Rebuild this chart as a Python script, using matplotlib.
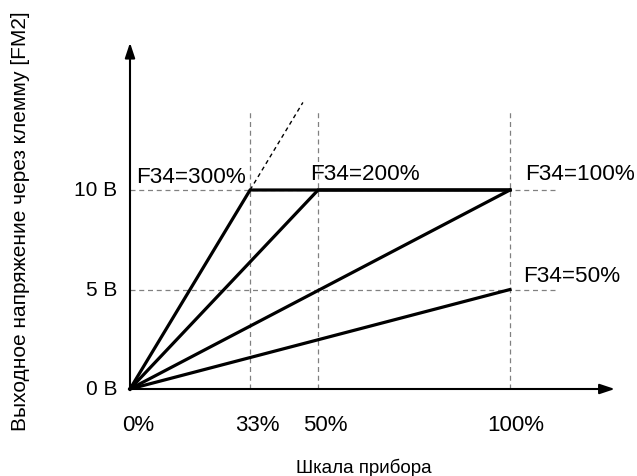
import matplotlib.pyplot as plt

plt.rcParams["font.family"] = ["Liberation Sans", "DejaVu Sans"]

# F34 settings and the scale points (%)
f34_labels = ["F34=300%", "F34=200%", "F34=100%", "F34=50%"]
f34_knee = [31.6, 49.5, 100, 100]   # x where each line ends / saturates
f34_end_v = [10, 10, 10, 5]         # voltage reached at the knee
x_marks = [0, 31.6, 49.5, 100]
x_tick_labels = ["0%", "33%", "50%", "100%"]
y_ticks = [0, 5, 10]
y_tick_labels = ["0 B", "5 B", "10 B"]
dash_ext = (45.5, 14.4)  # end of the unclipped 300% line

fig = plt.figure(figsize=(6.37, 4.77), dpi=100)
ax = fig.add_axes([0, 0, 1, 1])
ax.set_xlim(-130 / 3.8, (637 - 130) / 3.8)
ax.set_ylim(-(477 - 390) / 19.9, 390 / 19.9)
ax.axis("off")

grid = dict(color="#808080", lw=0.9, ls=(0, (4, 3)))
for x in x_marks[1:]:
    ax.plot([x, x], [0, 13.9], **grid)
for y in y_ticks[1:]:
    ax.plot([0, 112.6], [y, y], **grid)

# characteristic lines, clipped at 10 V
for xk, v in zip(f34_knee, f34_end_v):
    xs, ys = [0, xk], [0, v]
    if xk < 100:
        xs.append(100)
        ys.append(v)
    ax.plot(xs, ys, color="black", lw=2.3, solid_joinstyle="miter")

ax.plot([f34_knee[0], dash_ext[0]], [10, dash_ext[1]], color="black", lw=1,
        ls=(0, (3, 2.5)))

# axes with arrows
arrow = dict(arrowstyle="-|>,head_length=0.9,head_width=0.3", color="black",
             lw=1.5, shrinkA=0, shrinkB=0)
ax.annotate("", xy=(127.6, 0), xytext=(0, 0), arrowprops=arrow)
ax.annotate("", xy=(0, 17.4), xytext=(0, 0), arrowprops=arrow)

label_pos = [(1.6, 10.42), (47.4, 10.55), (103.9, 10.55), (103.4, 5.44)]
for txt, (x, y) in zip(f34_labels, label_pos):
    ax.text(x, y, txt, fontsize=16.2, ha="left", va="baseline")

tick_label_x = [2.1, 33.4, 51.3, 101.6]
for x, t in zip(tick_label_x, x_tick_labels):
    ax.text(x, -1.8, t, fontsize=16, ha="center", va="center")
for y, t in zip(y_ticks, y_tick_labels):
    ax.text(-3.4, y, t, fontsize=15, ha="right", va="center")

ax.text(61.5, -3.9, "Шкала прибора", fontsize=13.5, ha="center", va="center")
ax.text(-28.9, 8.5, "Выходное напряжение через клемму [FM2]", fontsize=15,
        ha="center", va="center", rotation=90)

fig.savefig("out.png", dpi=100)
